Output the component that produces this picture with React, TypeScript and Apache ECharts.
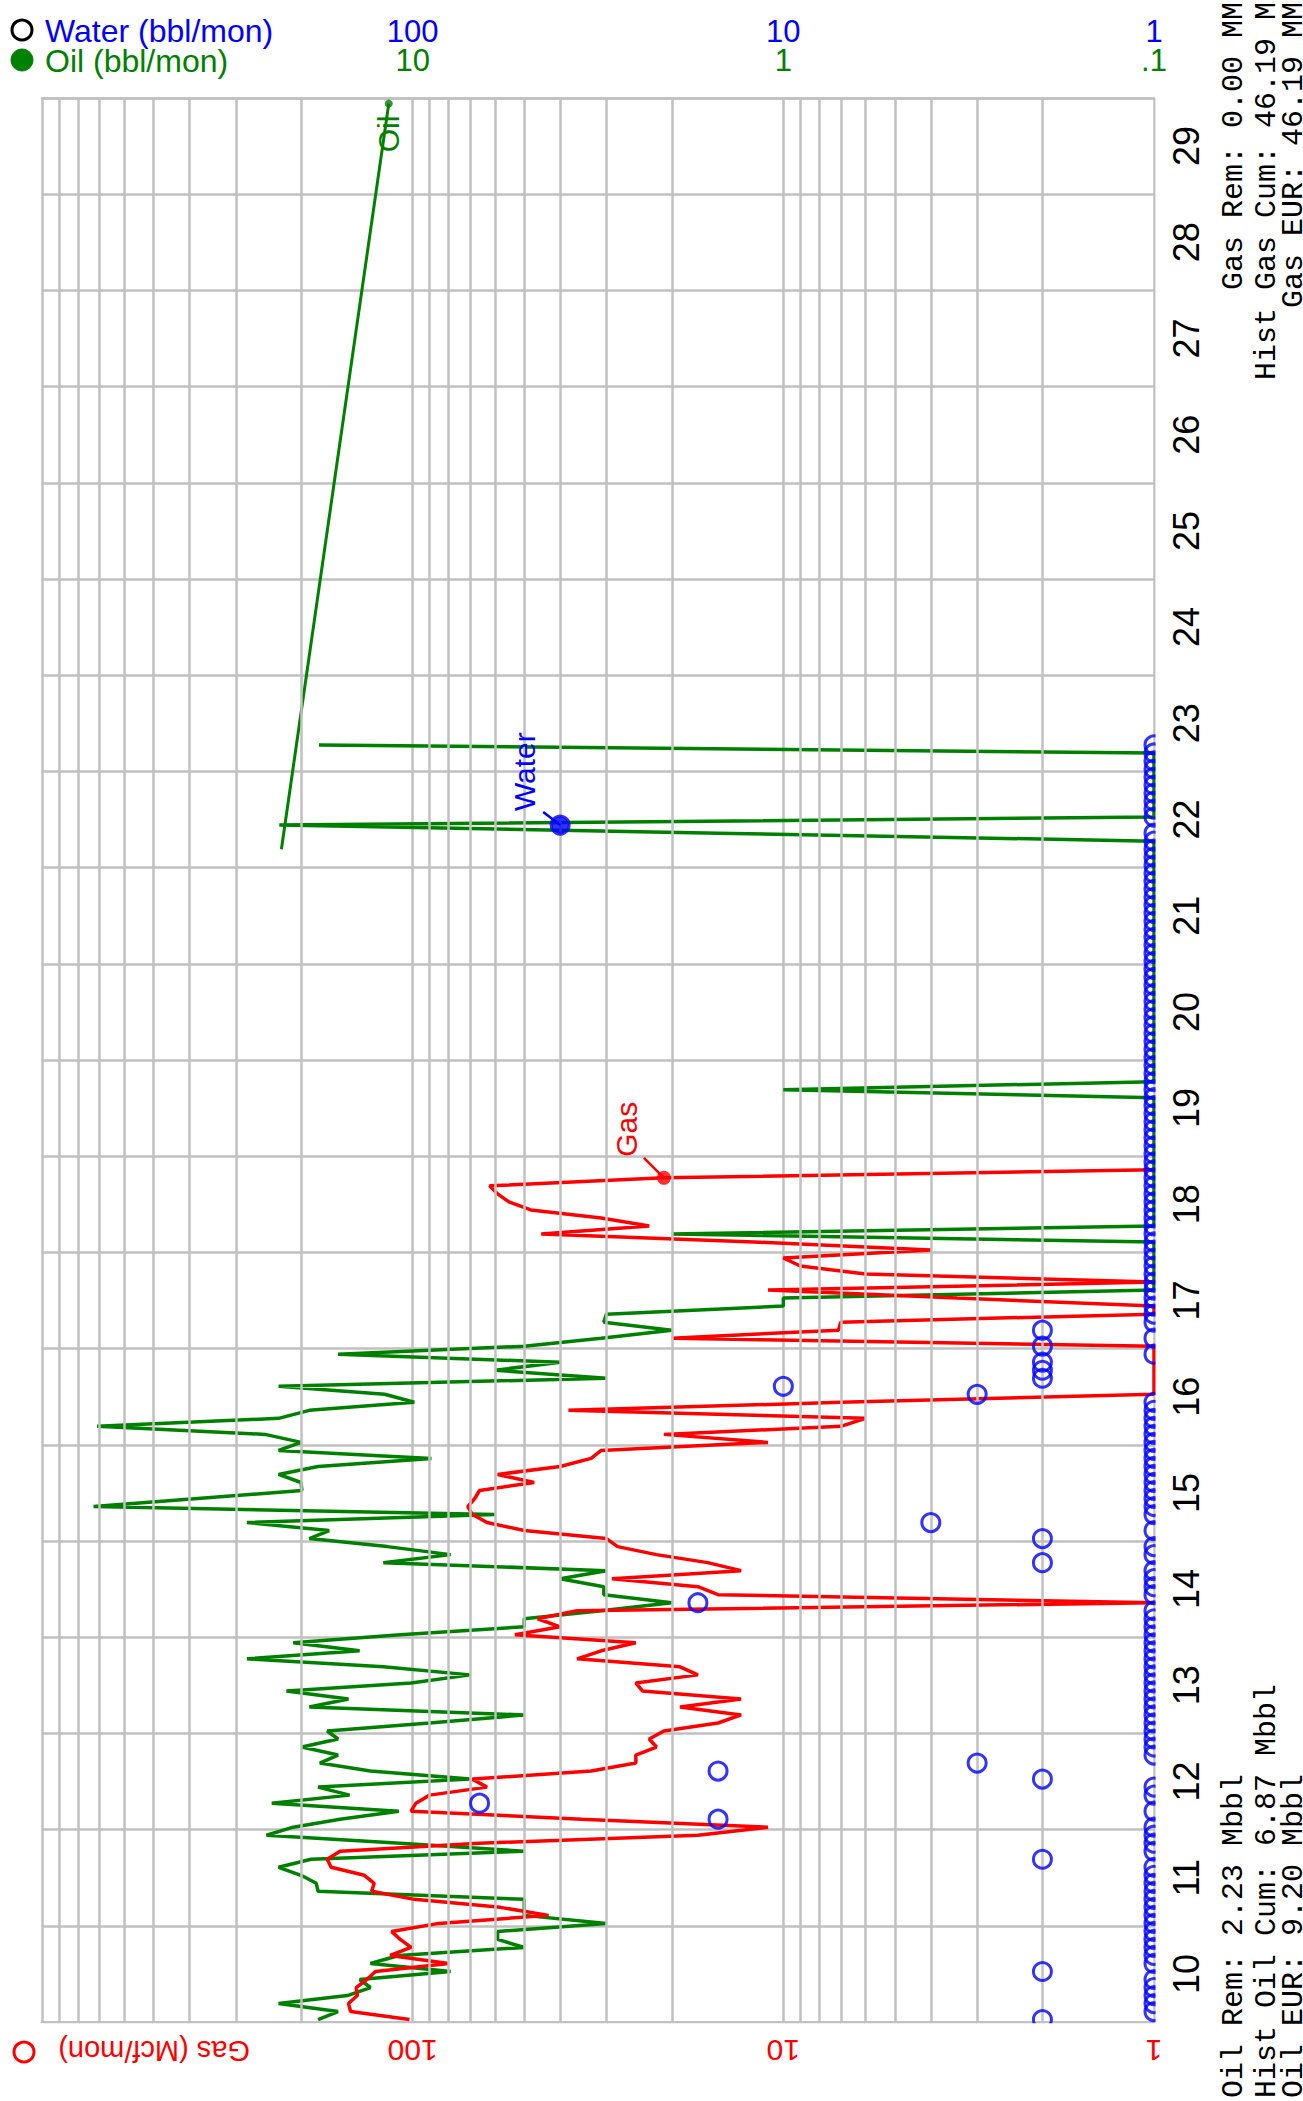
import React, { useEffect, useRef } from "react";
import * as echarts from "echarts";

// ---------------- data ----------------
const START_YEAR = 2010;
const MONTH_POS = 0.3; // position of each monthly point inside its month
const yearLabels = ["10","11","12","13","14","15","16","17","18","19","20","21","22","23","24","25","26","27","28","29"];

// Gas (Mcf/mon), monthly from Jan 2010
const gasMcf = [
  102,147,149,141,142,133,126,80,115,101,
  108,114,85,43,58,99,129,127,135,166,
  170,157,66,17,11,35,101,98,90,63,
  69,33,25,25,22,23,21,15,13,19,
  13,24,25,17,19,36,31,25,53,40,
  46,36,0,15,17,29,13,16,22,28,
  30,50,63,69,71,68,66,47,59,40,
  33,31,11,21,7,6,38,7,0,0,
  0,0,0,0,0,20,7.1,7,0,0,
  3.4,11,0,6,9,10,4,12,45,23,
  31,48,55,59,62,21,0
];

// Oil (bbl/mon), monthly from Jan 2010
const oilBbl = [
  18,15.9,23,15,13,13.9,7.9,13,10.9,5.0,
  5.9,5.9,3.0,5.0,5.0,5.0,18,18.2,20,23,
  18.8,5.0,10.8,24.8,21,15.7,10.9,24,14.8,18,
  7.0,13,17.8,15.9,19.9,15.9,17,9,5.0,19,
  14.9,21.9,10.1,7.0,12,28,13.9,21,10.8,5.0,
  5.0,3.1,2.0,3.05,3.05,4.0,3.0,12,7.9,11.7,
  19,16.8,28,6.0,72.6,38,19.9,20,23,18,
  8.9,23,20,25,71,23,19,9.9,11.9,23,
  3.0,6.0,4.0,15.9,5.0,3.1,2.0,3.05,3.0,1.0,
  1.0,0,0,0,0,0,0,0,2.0,0,
  0,0,0,0,0,0,0,0,0,0,
  0,0,0,0,0,0,1.0,0,0,0,
  0,0,0,0,0,0,0,0,0,0,
  0,0,0,0,0,0,0,0,0,0,
  0,0,0,0,0,0,0,0,1.5,22.9,
  0,0,0,0,0,0,0,0,0,17.9
];

// Water (bbl/mon), monthly from Jan 2010
const waterBbl = [
  2,0,0,0,0,0,2,0,0,0,
  0,0,0,0,0,0,0,0,0,0,
  2,0,0,0,0,15,0,66,0,0,
  2,15,3,0,0,0,0,0,0,0,
  0,0,0,0,0,0,0,0,0,0,
  0,0,17,0,0,0,0,2,0,0,
  2,0,4,0,0,0,0,0,0,0,
  0,0,0,0,0,0,0,0,3,10,
  2,2,2,0,2,0,2,0,0,0,
  0,0,0,0,0,0,0,0,0,0,
  0,0,0,0,0,0,0,0,0,0,
  0,0,0,0,0,0,0,0,0,0,
  0,0,0,0,0,0,0,0,0,0,
  0,0,0,0,0,0,0,0,0,0,
  0,0,0,0,0,0,0,0,0,40,
  0,0,0,0,0,0,0,0,0,0
];

// Oil forecast (straight exponential decline line)
const oilForecastMonths = [146, 239];
const oilForecastBbl = [22.6, 11.6];

// series label anchor months
const gasLabelMonth = 105;
const waterLabelMonth = 149;

// log grid
const decades = [1, 10, 100];
const minorMultipliers = [2, 3, 4, 5, 6, 7, 8, 9];

const gasStats = ["Gas Rem: 0.00 MMcf", "Hist Gas Cum: 46.19 MMcf", "Gas EUR: 46.19 MMcf"];
const oilStats = ["Oil Rem: 2.23 Mbbl", "Hist Oil Cum: 6.87 Mbbl", "Oil EUR: 9.20 Mbbl"];

// ---------------- styles ----------------
const FONT = "'Liberation Sans', Arial, Helvetica, sans-serif";
const MONO = "'Courier New', 'Liberation Mono', monospace";
const GRID = "#c0c0c0";
const RED = "#ff0000";
const GREEN = "#008000";
const BLUE = "#0000ff";
const GAS_MIN = 1, GAS_MAX = 1000;
const WAT_MIN = 1, WAT_MAX = 1000;
const OIL_MIN = 0.1, OIL_MAX = 100;

const tOf = (m: number) => START_YEAR + (m + MONTH_POS) / 12;

export default function App() {
  const ref = useRef<HTMLDivElement>(null);
  useEffect(() => {
    document.body.style.margin = "0";
    const chart = echarts.init(ref.current!, undefined, { renderer: "svg" });

    const gasData = gasMcf.map((v, m) => [Math.max(v, GAS_MIN), tOf(m)]);
    const oilData = oilBbl.map((v, m) => [Math.max(v, OIL_MIN), tOf(m)]);
    const waterData = waterBbl.map((v, m) => [Math.max(v, WAT_MIN), tOf(m)]);
    const fcData = oilForecastMonths.map((m, i) => [oilForecastBbl[i], tOf(m)]);
    const minorVals: number[] = [];
    decades.forEach((d) => minorMultipliers.forEach((k) => minorVals.push(d * k)));

    const labelFmt = (max: number) => (v: number) => {
      if (v >= max * 0.999) return "";
      if (v < 0.5) return ".1";
      return String(Math.round(v));
    };

    const option: any = {
      animation: false,
      textStyle: { fontFamily: FONT },
      grid: { left: 42, right: 149, top: 98, bottom: 79, containLabel: false },
      xAxis: [
        {
          type: "log", logBase: 10, min: GAS_MIN, max: GAS_MAX, inverse: true, position: "bottom",
          axisLine: { show: true, lineStyle: { color: GRID, width: 2.5 } },
          axisTick: { show: false },
          axisLabel: { rotate: 180, color: RED, fontSize: 30, margin: 13, fontFamily: FONT, formatter: labelFmt(GAS_MAX) },
          splitLine: { show: true, lineStyle: { color: GRID, width: 2.5 } },
        },
        {
          type: "log", logBase: 10, min: WAT_MIN, max: WAT_MAX, inverse: true, position: "top",
          axisLine: { show: true, lineStyle: { color: GRID, width: 2.5 } },
          axisTick: { show: false },
          axisLabel: { color: BLUE, fontSize: 31, lineHeight: 26, margin: 54, fontFamily: FONT, formatter: labelFmt(WAT_MAX) },
          splitLine: { show: false },
        },
        {
          type: "log", logBase: 10, min: OIL_MIN, max: OIL_MAX, inverse: true, position: "top",
          axisLine: { show: false },
          axisTick: { show: false },
          axisLabel: { color: GREEN, fontSize: 31, lineHeight: 26, margin: 25, fontFamily: FONT, formatter: labelFmt(OIL_MAX) },
          splitLine: { show: false },
        },
      ],
      yAxis: [
        { type: "value", min: START_YEAR, max: START_YEAR + 20, show: false },
        {
          type: "category", data: yearLabels, position: "right", boundaryGap: true,
          axisLine: { show: false }, axisTick: { show: false },
          axisLabel: { rotate: 90, color: "#000", fontSize: 36, margin: 14, fontFamily: FONT },
          splitLine: { show: true, lineStyle: { color: GRID, width: 2.5 } },
        },
      ],
      series: [
        {
          type: "line", xAxisIndex: 0, yAxisIndex: 0, z: 1, data: [[GAS_MIN, START_YEAR]],
          showSymbol: false, lineStyle: { opacity: 0 }, silent: true,
          markLine: {
            silent: true, symbol: ["none", "none"], label: { show: false },
            lineStyle: { color: GRID, width: 2.5, type: "solid" },
            emphasis: { disabled: true },
            data: minorVals.map((v) => ({ xAxis: v })),
          },
        },
        {
          name: "Oil", type: "line", xAxisIndex: 2, yAxisIndex: 0, z: 3, data: oilData,
          showSymbol: false, lineStyle: { color: GREEN, width: 3.5 }, silent: true,
        },
        {
          name: "Oil forecast", type: "line", xAxisIndex: 2, yAxisIndex: 0, z: 3, data: fcData,
          showSymbol: false, lineStyle: { color: GREEN, width: 3 }, silent: true,
        },
        {
          name: "Gas", type: "line", xAxisIndex: 0, yAxisIndex: 0, z: 4, data: gasData,
          showSymbol: false, lineStyle: { color: RED, width: 3.5 }, silent: true,
        },
        {
          name: "Water", type: "scatter", xAxisIndex: 1, yAxisIndex: 0, z: 5, data: waterData,
          symbol: "circle", symbolSize: 18, silent: true,
          itemStyle: { color: "rgba(0,0,0,0)", borderColor: BLUE, borderWidth: 3 },
        },
        {
          type: "scatter", xAxisIndex: 0, yAxisIndex: 0, z: 6, silent: true,
          data: [[gasMcf[gasLabelMonth], tOf(gasLabelMonth)]],
          symbolSize: 14, itemStyle: { color: RED },
        },
        {
          type: "scatter", xAxisIndex: 1, yAxisIndex: 0, z: 6, silent: true,
          data: [[waterBbl[waterLabelMonth], tOf(waterLabelMonth)]],
          symbolSize: 17, itemStyle: { color: BLUE },
        },
        {
          type: "scatter", xAxisIndex: 2, yAxisIndex: 0, z: 6, silent: true,
          data: [fcData[fcData.length - 1]],
          symbolSize: 8, itemStyle: { color: GREEN },
        },
      ],
    };
    chart.setOption(option);

    const gasPt = chart.convertToPixel({ seriesIndex: 5 }, [gasMcf[gasLabelMonth], tOf(gasLabelMonth)]) as number[];
    const watPt = chart.convertToPixel({ seriesIndex: 6 }, [waterBbl[waterLabelMonth], tOf(waterLabelMonth)]) as number[];
    const oilPt = chart.convertToPixel({ seriesIndex: 7 }, fcData[fcData.length - 1]) as number[];

    const vText = (x: number, y: number, text: string, fill: string, align: string, font = FONT, size = 30, rot = Math.PI / 2) => ({
      type: "text", x, y, rotation: rot, z: 60,
      style: { text, fill, font: `${size}px ${font}`, fontSize: size, fontFamily: font, align, textAlign: align, verticalAlign: "middle", textVerticalAlign: "middle" },
    });
    const hText = (x: number, y: number, text: string, fill: string, size: number) => ({
      type: "text", x, y, z: 60,
      style: { text, fill, font: `${size}px ${FONT}`, fontSize: size, fontFamily: FONT, align: "left", textAlign: "left", verticalAlign: "middle", textVerticalAlign: "middle" },
    });

    const graphics: any[] = [
      // clip symbols that overflow the plot on the right and bottom
      { type: "rect", shape: { x: 1155.6, y: 80, width: 11, height: 1960 }, style: { fill: "#fff" }, z: 50, silent: true },
      { type: "rect", shape: { x: 20, y: 2023.2, width: 1150, height: 11 }, style: { fill: "#fff" }, z: 50, silent: true },
      // legends
      { type: "circle", shape: { cx: 22, cy: 30, r: 10 }, style: { fill: "none", stroke: "#000", lineWidth: 3 }, z: 60 },
      hText(45, 31, "Water (bbl/mon)", BLUE, 32),
      { type: "circle", shape: { cx: 22, cy: 60, r: 11 }, style: { fill: GREEN, stroke: GREEN, lineWidth: 1 }, z: 60 },
      hText(45, 61, "Oil (bbl/mon)", GREEN, 32),
      { type: "circle", shape: { cx: 24, cy: 2052, r: 10 }, style: { fill: "none", stroke: RED, lineWidth: 3 }, z: 60 },
      vText(250, 2051, "Gas (Mcf/mon)", RED, "left", FONT, 29, Math.PI),
      // series labels
      { type: "line", shape: { x1: gasPt[0], y1: gasPt[1], x2: gasPt[0] - 20, y2: gasPt[1] - 20 }, style: { stroke: RED, lineWidth: 2.5 }, z: 60 },
      vText(gasPt[0] - 37, gasPt[1] - 21, "Gas", RED, "left"),
      { type: "line", shape: { x1: watPt[0], y1: watPt[1], x2: watPt[0] - 17, y2: watPt[1] - 13 }, style: { stroke: BLUE, lineWidth: 2.5 }, z: 60 },
      vText(watPt[0] - 36, watPt[1] - 14, "Water", BLUE, "left"),
      vText(oilPt[0], oilPt[1] + 12, "Oil", GREEN, "right"),
    ];
    // stats (monospace): gas block right-aligned at the top, oil block left-aligned at the bottom
    const colX = [1234, 1267, 1294];
    const gasEnd = [-34, -52, -34];
    gasStats.forEach((s, i) => graphics.push(vText(colX[i], gasEnd[i], s, "#000", "right", MONO, 30)));
    oilStats.forEach((s, i) => graphics.push(vText(colX[i], 2098, s, "#000", "left", MONO, 30)));
    chart.setOption({ graphic: graphics });

    return () => chart.dispose();
  }, []);
  return <div ref={ref} style={{ width: 1303, height: 2101 }} />;
}
